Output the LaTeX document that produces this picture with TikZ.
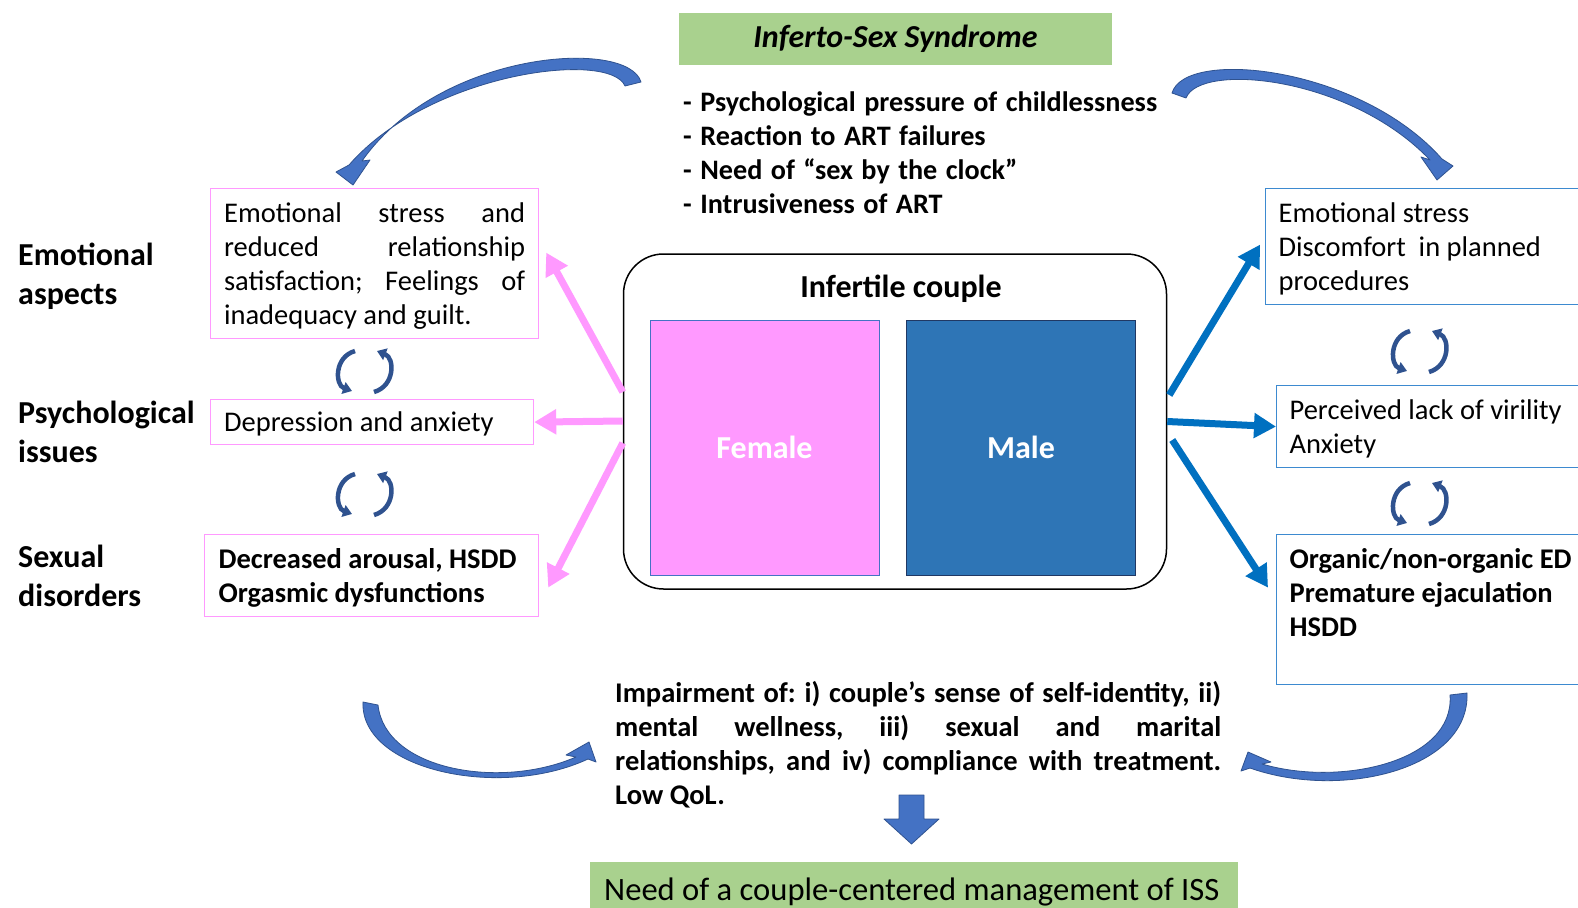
\documentclass[tikz,border=0pt]{standalone}
\usepackage{fontspec}
\setmainfont{Carlito}
\usetikzlibrary{arrows.meta,positioning}
\definecolor{pinkc}{HTML}{FF99FF}
\definecolor{maleblue}{HTML}{2E75B6}
\definecolor{maleedge}{HTML}{203864}
\definecolor{arrblue}{HTML}{0070C0}
\definecolor{boxblue}{HTML}{3D8AD0}
\definecolor{curvfill}{HTML}{4472C4}
\definecolor{curvline}{HTML}{2F528F}
\definecolor{grn}{HTML}{A9D18E}
\newcommand{\tstrut}{\rule{0pt}{26.8pt}}
\newcommand{\bstrut}{\rule[-7.2pt]{0pt}{7.2pt}}
\newcommand{\natsp}{\spaceskip=0pt\xspaceskip=0pt}
\tikzstyle{txt}=[inner sep=0pt,execute at begin node={\natsp\strut},execute at end node=\strut]
\tikzstyle{lbox}=[draw=pinkc,line width=1.2pt,anchor=north west,align=left,inner ysep=7pt,inner xsep=13.5pt,execute at begin node={\natsp\tstrut},execute at end node=\bstrut]
\tikzstyle{rbox}=[draw=boxblue,line width=1.2pt,anchor=north west,align=left,inner ysep=7pt,inner xsep=13pt,execute at begin node={\natsp\tstrut},execute at end node=\bstrut]
\tikzstyle{grnbox}=[fill=grn,inner sep=0pt]
\tikzstyle{couplebox}=[draw,line width=1.5pt,rounded corners=40pt,minimum width=543pt,minimum height=335pt]
\tikzstyle{partner}=[minimum width=229pt,minimum height=255pt,line width=1pt,text=white,font=\fontsize{32}{38}\selectfont\bfseries]
\tikzstyle{sidelbl}=[anchor=north west,align=left,text width=210pt,inner sep=0pt,font=\fontsize{32}{39}\selectfont\bfseries,execute at begin node={\natsp\strut},execute at end node=\strut]
\tikzstyle{pinkarr}=[draw=pinkc,line width=7pt,-{Triangle[width=24pt,length=22pt]}]
\tikzstyle{bluearr}=[draw=arrblue,line width=7pt,-{Triangle[width=24pt,length=22pt]}]
\tikzstyle{bigarr}=[fill=curvfill,draw=curvline,line width=0.8pt,line join=round]
\tikzstyle{cyc}=[draw=curvline,line width=4.5pt,-{Triangle[width=12pt,length=9pt]}]

\begin{document}
\frenchspacing
\fontsize{28.5}{34}\selectfont
\begin{tikzpicture}[x=1pt,y=-1pt]
\useasboundingbox (0,0) rectangle (1578,907);
\fill[white] (0,0) rectangle (1578,907);
\clip (0,0) rectangle (1578,907);

% header
\node[grnbox,minimum width=433pt,minimum height=52pt,font=\fontsize{32}{38}\selectfont] (title) at (895.5,39) {\textbf{\textit{Inferto-Sex Syndrome}}};
\node[anchor=north west,align=left,text width=480pt,inner sep=0pt,font=\fontsize{28.2}{34}\selectfont\bfseries,execute at begin node={\spaceskip=.3em\strut},execute at end node=\strut] (causes) at (683,87)
  {- Psychological pressure of childlessness\\- Reaction to ART failures\\- Need of “sex by the clock”\\- Intrusiveness of ART};

% couple
\node[couplebox] (couple) at (895,421.5) {};
\node[font=\fontsize{32}{38}\selectfont\bfseries] (ctitle) at (901,289) {Infertile couple};
\node[partner,fill=pinkc,draw=curvfill] (fem) at (764.5,447.5) {Female};
\node[partner,fill=maleblue,draw=maleedge] (mal) at (1021,447.5) {Male};

% left side
\node[sidelbl] (lemo) at (18,238) {Emotional\\aspects};
\node[sidelbl] (lpsy) at (18,395.5) {Psychological\\issues};
\node[sidelbl] (lsex) at (18,539.5) {Sexual\\disorders};
\node[lbox,text width=301pt] (emo) at (210,188)
  {\makebox[301pt][s]{Emotional stress and}\\\makebox[301pt][s]{reduced relationship}\\\makebox[301pt][s]{satisfaction; Feelings of}\\inadequacy and guilt.};
\node[lbox,text width=296pt,inner ysep=5.5pt] (dep) at (210,399) {Depression and anxiety};
\node[lbox,text width=306pt,inner xsep=14pt,font=\bfseries] (sexd) at (204,534) {Decreased arousal, HSDD\\Orgasmic dysfunctions};

% right side
\node[rbox,text width=309pt] (rb1) at (1265,188) {Emotional stress\\Discomfort\ \ in planned\\procedures};
\node[rbox,text width=298pt] (rb2) at (1276,385) {Perceived lack of virility\\Anxiety};
\node[rbox,text width=298pt,font=\bfseries] (rb3) at (1276,534) {Organic/non-organic ED\\Premature ejaculation\\HSDD\\\mbox{}};

% bottom
\node[txt,anchor=north west,align=left,text width=606pt,font=\bfseries] (impair) at (615,678)
  {\makebox[606pt][s]{Impairment of: i) couple’s sense of self-identity, ii)}\\\makebox[606pt][s]{mental wellness, iii) sexual and marital}\\\makebox[606pt][s]{relationships, and iv) compliance with treatment.}\\Low QoL.};
\node[grnbox,anchor=north west,minimum width=648pt,minimum height=60pt,text width=620pt,inner xsep=14pt,align=left,font=\fontsize{32.6}{38}\selectfont,execute at begin node=\natsp] (need) at (590,862) {Need of a couple-centered management of ISS};

% straight arrows
\draw[pinkarr] ([yshift=29.5pt]couple.west) -- ([xshift=7pt,yshift=11pt]emo.east);
\draw[pinkarr] ([yshift=0.5pt]couple.west) -- (dep.east);
\draw[pinkarr] ([yshift=-21.5pt]couple.west) -- ([xshift=9pt,yshift=-12pt]sexd.east);
\draw[bluearr] ([xshift=2pt,yshift=26.5pt]couple.east) -- ([xshift=-5pt,yshift=2pt]rb1.west);
\draw[bluearr] (couple.east) -- (rb2.west);
\draw[bluearr] ([xshift=5pt,yshift=-18.5pt]couple.east) -- ([xshift=-8pt,yshift=22pt]rb3.west);

% curved arrows
\path[bigarr] (641,82) .. controls (628,38) and (440,50) .. (362,161) -- (370,160) -- (353,185) -- (336,172) -- (349,165) .. controls (430,72) and (610,50) .. (625,86) -- cycle;
\path[bigarr] (1172,93) .. controls (1185,48) and (1360,66) .. (1442,159) -- (1453,166) -- (1437,180) -- (1421,157) -- (1430,160) .. controls (1350,76) and (1200,62) .. (1186,98) -- cycle;
\path[bigarr] (363,702) .. controls (360,770) and (500,800) .. (588,759) -- (596,762) -- (589,742) -- (566,755) -- (576,757) .. controls (500,790) and (385,770) .. (378,705) -- cycle;
\path[bigarr] (1467,693) .. controls (1470,770) and (1340,800) .. (1250,768) -- (1241,771) -- (1248,752) -- (1271,762) -- (1262,764) .. controls (1340,787) and (1455,762) .. (1450,695) -- cycle;
\path[bigarr] (899,795) -- (924,795) -- (924,819) -- (939,819) -- (911.5,844) -- (884,819) -- (899,819) -- cycle;

% feedback cycles
\foreach \cx/\cy in {365/371, 365/494, 1420/351, 1420/503} {
  \begin{scope}[shift={(\cx,\cy)}]
    \draw[cyc] (-10,-20) .. controls (-31,-14) and (-30,14) .. (-13,20);
    \draw[cyc] (9,21) .. controls (30,15) and (30,-13) .. (12,-20);
  \end{scope}
}
\end{tikzpicture}
\end{document}
